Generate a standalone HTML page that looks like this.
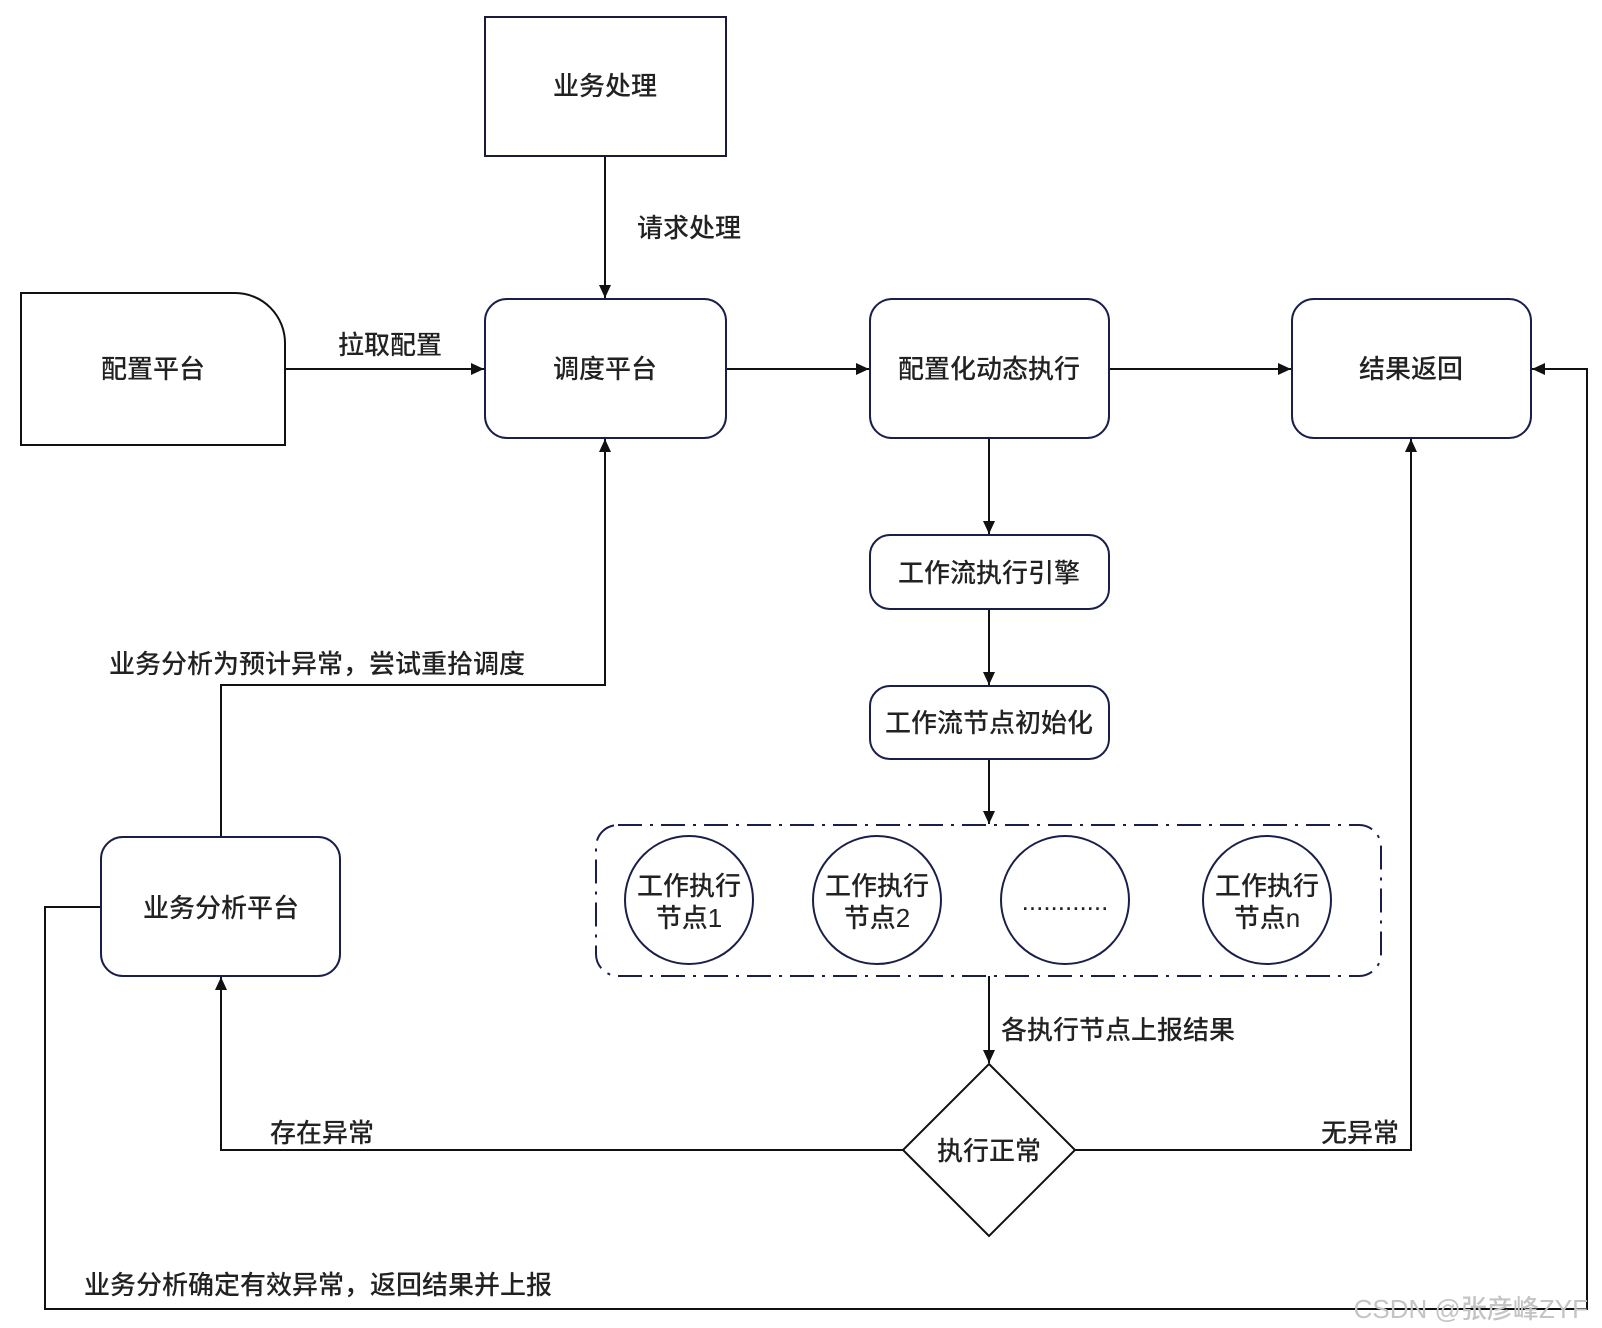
<!DOCTYPE html>
<html><head><meta charset="utf-8"><style>
html,body{margin:0;padding:0;background:#fff;}
svg{display:block;}
text{font-family:"Liberation Sans","Noto Sans CJK SC",sans-serif;font-size:26px;fill:#222;font-weight:500;}
</style></head><body>
<svg width="1602" height="1328" viewBox="0 0 1602 1328" xmlns="http://www.w3.org/2000/svg">
<defs>
<marker id="b" markerWidth="14" markerHeight="14" refX="13" refY="6" orient="auto" markerUnits="userSpaceOnUse"><path d="M0,0 L13,6 L0,12 z" fill="#111"/></marker>
</defs>
<g fill="none" stroke="#111" stroke-width="2">
<line x1="605" y1="156" x2="605" y2="298" marker-end="url(#b)"/>
<line x1="285" y1="369" x2="484" y2="369" marker-end="url(#b)"/>
<line x1="726" y1="369" x2="869" y2="369" marker-end="url(#b)"/>
<line x1="1109" y1="369" x2="1291" y2="369" marker-end="url(#b)"/>
<line x1="989" y1="438" x2="989" y2="534" marker-end="url(#b)"/>
<line x1="989" y1="609" x2="989" y2="685" marker-end="url(#b)"/>
<line x1="989" y1="759" x2="989" y2="824" marker-end="url(#b)"/>
<line x1="989" y1="976" x2="989" y2="1063" marker-end="url(#b)"/>
<polyline points="903,1150 221,1150 221,977" marker-end="url(#b)"/>
<polyline points="1075,1150 1411,1150 1411,439" marker-end="url(#b)"/>
<polyline points="221,837 221,685 605,685 605,439" marker-end="url(#b)"/>
<polyline points="101,907 45,907 45,1309 1587,1309 1587,369 1532,369" marker-end="url(#b)"/>
</g>
<rect x="485" y="17" width="241" height="139" fill="#fff" stroke="#1a1a3a" stroke-width="2"/>
<path d="M21,293 H235 A50,50 0 0 1 285,343 V445 H21 Z" fill="#fff" stroke="#111" stroke-width="2"/>
<g fill="#fff" stroke="#1a1f4a" stroke-width="2">
<rect x="485" y="299" width="241" height="139" rx="22"/>
<rect x="870" y="299" width="239" height="139" rx="22"/>
<rect x="1292" y="299" width="239" height="139" rx="22"/>
<rect x="870" y="535" width="239" height="74" rx="20"/>
<rect x="870" y="686" width="239" height="73" rx="20"/>
<rect x="101" y="837" width="239" height="139" rx="22"/>
<rect x="596" y="825" width="785" height="151" rx="22" fill="none" stroke-dasharray="24,8,3,8"/>
<circle cx="689" cy="900" r="64"/>
<circle cx="877" cy="900" r="64"/>
<circle cx="1065" cy="900" r="64"/>
<circle cx="1267" cy="900" r="64"/>
<path d="M989,1064 L1075,1150 L989,1236 L903,1150 Z" stroke="#111"/>
</g>
<g text-anchor="middle">
<text x="605" y="95">业务处理</text>
<text x="153" y="378">配置平台</text>
<text x="605" y="378">调度平台</text>
<text x="989" y="378">配置化动态执行</text>
<text x="1411" y="378">结果返回</text>
<text x="989" y="582">工作流执行引擎</text>
<text x="989" y="732">工作流节点初始化</text>
<text x="221" y="917">业务分析平台</text>
<text x="689" y="895" font-size="24">工作执行</text>
<text x="689" y="927" font-size="24">节点1</text>
<text x="877" y="895" font-size="24">工作执行</text>
<text x="877" y="927" font-size="24">节点2</text>
<text x="1065" y="910" font-size="23">............</text>
<text x="1267" y="895" font-size="24">工作执行</text>
<text x="1267" y="927" font-size="24">节点n</text>
<text x="989" y="1160">执行正常</text>
<text x="390" y="354">拉取配置</text>
</g>
<text x="637" y="237">请求处理</text>
<text x="109" y="673">业务分析为预计异常，尝试重拾调度</text>
<text x="1001" y="1039">各执行节点上报结果</text>
<text x="270" y="1142">存在异常</text>
<text x="1321" y="1142">无异常</text>
<text x="84" y="1294">业务分析确定有效异常，返回结果并上报</text>
<text x="1588" y="1318" text-anchor="end" font-size="15" style="fill:#c4c4c4">CSDN @张彦峰ZYF</text>
</svg>
</body></html>
